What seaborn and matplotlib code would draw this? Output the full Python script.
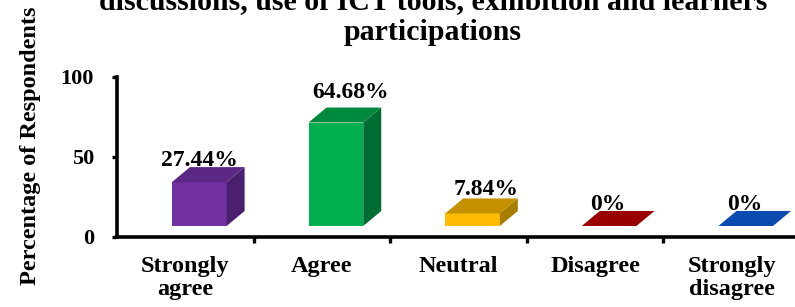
import matplotlib
matplotlib.use("Agg")
import matplotlib.pyplot as plt
import seaborn as sns
import pandas as pd
from matplotlib.patches import Polygon
from matplotlib.transforms import ScaledTranslation, IdentityTransform

# ---- data ----
categories = ["Strongly\nagree", "Agree", "Neutral", "Disagree", "Strongly\ndisagree"]
values = [27.44, 64.68, 7.84, 0, 0]
value_labels = ["27.44%", "64.68%", "7.84%", "0%", "0%"]
yticks = [0, 50, 100]
title_lines = ["discussions, use of ICT tools, exhibition and learners", "participations"]
ylabel = "Percentage of Respondents"

# ---- style ----
front_colors = ["#7030A0", "#00B050", "#FFBC00", "#C00000", "#1058D0"]
top_colors = ["#5B2886", "#008A3E", "#C49200", "#990000", "#0B4BB0"]
side_colors = ["#4A1F6E", "#006E32", "#A87C00", "#7A0000", "#083C8E"]
label_nudge_x = [0, 15, 14, -1, -1]   # px
label_nudge_y = [1, 10, 3, 1, 1]      # px
FRONT_DX, FRONT_DY = 14, 11           # px shift of the 3D floor
DEPTH_DX, DEPTH_DY = 18, 15           # px depth of the 3D boxes

sns.set_theme(style="white")
plt.rcParams["font.family"] = ["Liberation Serif", "DejaVu Serif"]
plt.rcParams["font.weight"] = "bold"
plt.rcParams["text.color"] = "black"
plt.rcParams["xtick.color"] = "black"
plt.rcParams["ytick.color"] = "black"

DPI = 100
fig = plt.figure(figsize=(7.95, 3.07), dpi=DPI)
ax = fig.add_axes([117 / 795, 70 / 307, 683 / 795, 160 / 307])

df = pd.DataFrame({"cat": categories, "val": values})
sns.barplot(data=df, x="cat", y="val", hue="cat", palette=front_colors,
            width=0.4, ax=ax, legend=False, saturation=1, linewidth=0)
ax.set_xlim(-0.5, 4.5)
ax.set_ylim(0, 100)

front_off = ScaledTranslation(FRONT_DX / DPI, FRONT_DY / DPI, fig.dpi_scale_trans)
front_trans = ax.transData + front_off

patches = sorted(ax.patches, key=lambda p: p.get_x())
for i, p in enumerate(patches):
    p.set_transform(front_trans)
    p.set_clip_on(False)
    x0, w, h = p.get_x(), p.get_width(), p.get_height()
    (xl, yb), (xr, yt) = front_trans.transform([(x0, 0), (x0 + w, h)])
    top = Polygon([(xl, yt), (xr, yt), (xr + DEPTH_DX, yt + DEPTH_DY), (xl + DEPTH_DX, yt + DEPTH_DY)],
                  closed=True, facecolor=top_colors[i], edgecolor="none",
                  transform=IdentityTransform(), clip_on=False, zorder=3)
    ax.add_patch(top)
    if h > 0:
        side = Polygon([(xr, yb), (xr + DEPTH_DX, yb + DEPTH_DY), (xr + DEPTH_DX, yt + DEPTH_DY), (xr, yt)],
                       closed=True, facecolor=side_colors[i], edgecolor="none",
                       transform=IdentityTransform(), clip_on=False, zorder=3)
        ax.add_patch(side)
    lab_trans = ax.transData + ScaledTranslation((FRONT_DX + label_nudge_x[i]) / DPI,
                                                 (FRONT_DY + DEPTH_DY + label_nudge_y[i]) / DPI,
                                                 fig.dpi_scale_trans)
    ax.text(x0 + w / 2, h, value_labels[i], transform=lab_trans, ha="center", va="baseline",
            fontsize=17, fontweight="bold", zorder=4, clip_on=False)

# axes styling
for s in ["top", "right"]:
    ax.spines[s].set_visible(False)
for s in ["left", "bottom"]:
    ax.spines[s].set_visible(True)
    ax.spines[s].set_color("black")
    ax.spines[s].set_linewidth(2.6)

ax.set_yticks(yticks)
ax.set_yticklabels([str(t) for t in yticks], fontsize=16, fontweight="bold")
ax.tick_params(axis="y", left=True, length=3.5, width=2.4, direction="out", pad=13)
ax.set_xticks(range(len(categories)))
ax.set_xticklabels(categories, fontsize=17.5, fontweight="bold", linespacing=1.12)
ax.set_xticks([0.5, 1.5, 2.5, 3.5], minor=True)
ax.tick_params(axis="x", which="major", bottom=True, length=0, pad=14)
ax.tick_params(axis="x", which="minor", bottom=True, length=4, width=2.4, direction="out")
ax.set_xlabel("")
ax.set_ylabel("")

fig.text(31 / 795, 1 - 146 / 307, ylabel, rotation=90, ha="center", va="center",
         fontsize=17.5, fontweight="bold")
fig.text(433 / 795, 1 - 9 / 307, title_lines[0], ha="center", va="baseline",
         fontsize=21.5, fontweight="bold")
fig.text(433 / 795, 1 - 40 / 307, title_lines[1], ha="center", va="baseline",
         fontsize=21.5, fontweight="bold")

fig.savefig("out.png", dpi=DPI)
